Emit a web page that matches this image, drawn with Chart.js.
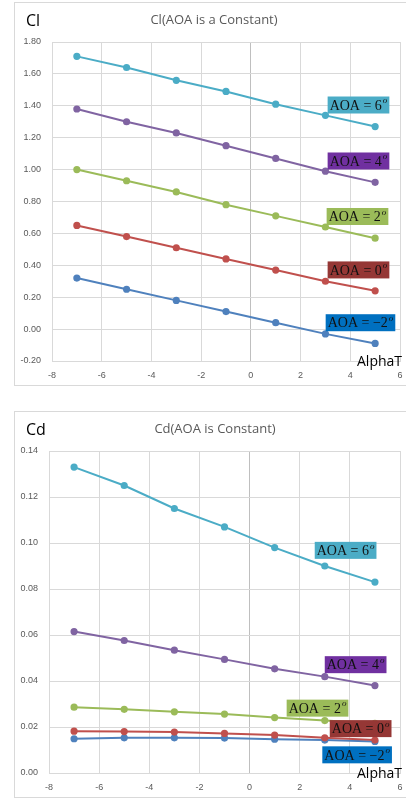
<!DOCTYPE html>
<html>
<head>
<meta charset="utf-8">
<script src="https://cdn.jsdelivr.net/npm/chart.js@4"></script>
<style>
  body { margin: 0; width: 406px; height: 799px; background: #fff; position: relative; overflow: hidden; font-family: "Open Sans", sans-serif; }
  .frame { position: absolute; border: 1px solid #d9d9d9; }
  .wrap { position: absolute; left: 0; width: 406px; }
  .txt { position: absolute; white-space: nowrap; line-height: 1; z-index: 2; }
  .ylab { font-size: 16px; color: #000; }
  .title { font-size: 13px; color: #595959; transform: translateX(-50%); }
  .alpha { font-size: 14px; color: #000; }
</style>
</head>
<body>
<div class="frame" style="left:14px;top:2px;width:420px;height:382px;"></div>
<div class="frame" style="left:14px;top:411px;width:420px;height:385px;"></div>

<div class="wrap" style="top:0;height:400px;"><canvas id="clChart"></canvas></div>
<div class="wrap" style="top:400px;height:399px;"><canvas id="cdChart"></canvas></div>

<div class="txt ylab" style="left:26px;top:12px;">Cl</div>
<div class="txt title" style="left:214px;top:13px;">Cl(AOA is a Constant)</div>
<div class="txt alpha" style="left:357px;top:354px;">AlphaT</div>

<div class="txt ylab" style="left:26px;top:421px;">Cd</div>
<div class="txt title" style="left:215px;top:422px;">Cd(AOA is Constant)</div>
<div class="txt alpha" style="left:357px;top:766px;">AlphaT</div>

<script>
// x values (AlphaT)
const alphaT = [-7, -5, -3, -1, 1, 3, 5];

// Cl for each AOA
const cl6 = [1.71, 1.64, 1.56, 1.49, 1.41, 1.34, 1.27];
const cl4 = [1.38, 1.30, 1.23, 1.15, 1.07, 0.99, 0.92];
const cl2 = [1.00, 0.93, 0.86, 0.78, 0.71, 0.64, 0.57];
const cl0 = [0.65, 0.58, 0.51, 0.44, 0.37, 0.30, 0.24];
const clM2 = [0.32, 0.25, 0.18, 0.11, 0.04, -0.03, -0.09];

// Cd for each AOA
const cd6 = [0.133, 0.125, 0.115, 0.107, 0.098, 0.090, 0.083];
const cd4 = [0.0615, 0.0576, 0.0534, 0.0494, 0.0453, 0.0419, 0.0380];
const cd2 = [0.0286, 0.0277, 0.0266, 0.0256, 0.0241, 0.0228, 0.0216];
const cd0 = [0.0182, 0.0180, 0.0178, 0.0172, 0.0165, 0.0153, 0.0143];
const cdM2 = [0.0149, 0.0153, 0.0153, 0.0152, 0.0147, 0.0143, 0.0137];

const aoaNames = ["AOA = 6", "AOA = 4", "AOA = 2", "AOA = 0", "AOA = \u22122"];
const lineColors = ["#4bacc6", "#8064a2", "#9bbb59", "#c0504d", "#4f81bd"];
const tagColors = ["#4bacc6", "#7030a0", "#9bbb59", "#953735", "#0070c0"];

function toPoints(values) {
  return values.map((v, i) => ({ x: alphaT[i], y: v }));
}

function makeDatasets(seriesList) {
  return seriesList.map((s, i) => ({
    label: aoaNames[i],
    data: toPoints(s),
    borderColor: lineColors[i],
    backgroundColor: lineColors[i],
    borderWidth: 2,
    pointRadius: 2.6,
    pointHoverRadius: 2.6,
    order: i
  }));
}

// boxes with "AOA = n°" text
const tagPlugin = {
  id: "tags",
  afterDatasetsDraw(chart, args, opts) {
    const ctx = chart.ctx;
    const xs = chart.scales.x;
    const ys = chart.scales.y;
    opts.items.forEach((t, i) => {
      const cx = xs.getPixelForValue(t.x);
      const cy = ys.getPixelForValue(t.y);
      ctx.save();
      ctx.font = '14px "Liberation Serif", serif';
      const w1 = ctx.measureText(aoaNames[i]).width;
      ctx.font = 'italic 9px "Liberation Serif", serif';
      const w2 = ctx.measureText("o").width;
      const w = w1 + w2 + 5;
      const h = 17;
      const left = cx - w / 2;
      ctx.fillStyle = tagColors[i];
      ctx.fillRect(left, cy - h / 2, w, h);
      ctx.fillStyle = "#111";
      ctx.textBaseline = "middle";
      ctx.font = '14px "Liberation Serif", serif';
      ctx.fillText(aoaNames[i], left + 2, cy + 1);
      ctx.font = 'italic 9px "Liberation Serif", serif';
      ctx.fillText("o", left + 2 + w1 + 1, cy - 4);
      ctx.restore();
    });
  }
};

function gridColor(c) {
  return c.tick && c.tick.value === 0 ? "#bfbfbf" : "#d9d9d9";
}

function makeChart(id, seriesList, yOpts, axisWidth, padding, tags) {
  return new Chart(document.getElementById(id), {
    type: "line",
    data: { datasets: makeDatasets(seriesList) },
    options: {
      responsive: true,
      maintainAspectRatio: false,
      animation: false,
      layout: { padding: padding },
      plugins: {
        legend: { display: false },
        tooltip: { enabled: false },
        tags: { items: tags }
      },
      scales: {
        x: {
          type: "linear",
          min: -8,
          max: 6,
          ticks: { stepSize: 2, color: "#595959", font: { size: 9, family: "Liberation Sans" }, padding: 9, maxRotation: 0 },
          grid: { color: gridColor, drawTicks: false },
          border: { color: "#d9d9d9" },
          afterFit: (s) => { s.height = 20; s.paddingLeft = 0; s.paddingRight = 0; }
        },
        y: {
          min: yOpts.min,
          max: yOpts.max,
          ticks: {
            stepSize: yOpts.step,
            color: "#595959",
            font: { size: 9, family: "Liberation Sans" },
            padding: yOpts.pad,
            callback: (v) => v.toFixed(2)
          },
          grid: { color: "#d9d9d9", drawTicks: false },
          border: { color: "#d9d9d9" },
          afterFit: (s) => { s.width = axisWidth; s.paddingTop = 0; s.paddingBottom = 0; }
        }
      }
    },
    plugins: [tagPlugin]
  });
}

makeChart("clChart", [cl6, cl4, cl2, cl0, clM2],
  { min: -0.2, max: 1.8, step: 0.2, pad: 11 }, 52,
  { left: 0, right: 6, top: 42, bottom: 19 },
  [
    { x: 4.33, y: 1.405 },
    { x: 4.33, y: 1.054 },
    { x: 4.29, y: 0.706 },
    { x: 4.33, y: 0.371 },
    { x: 4.41, y: 0.040 }
  ]);

makeChart("cdChart", [cd6, cd4, cd2, cd0, cdM2],
  { min: 0, max: 0.14, step: 0.02, pad: 11 }, 49,
  { left: 0, right: 6, top: 51, bottom: 6 },
  [
    { x: 3.83, y: 0.0968 },
    { x: 4.23, y: 0.0471 },
    { x: 2.71, y: 0.0282 },
    { x: 4.43, y: 0.0193 },
    { x: 4.29, y: 0.0079 }
  ]);
</script>
</body>
</html>
